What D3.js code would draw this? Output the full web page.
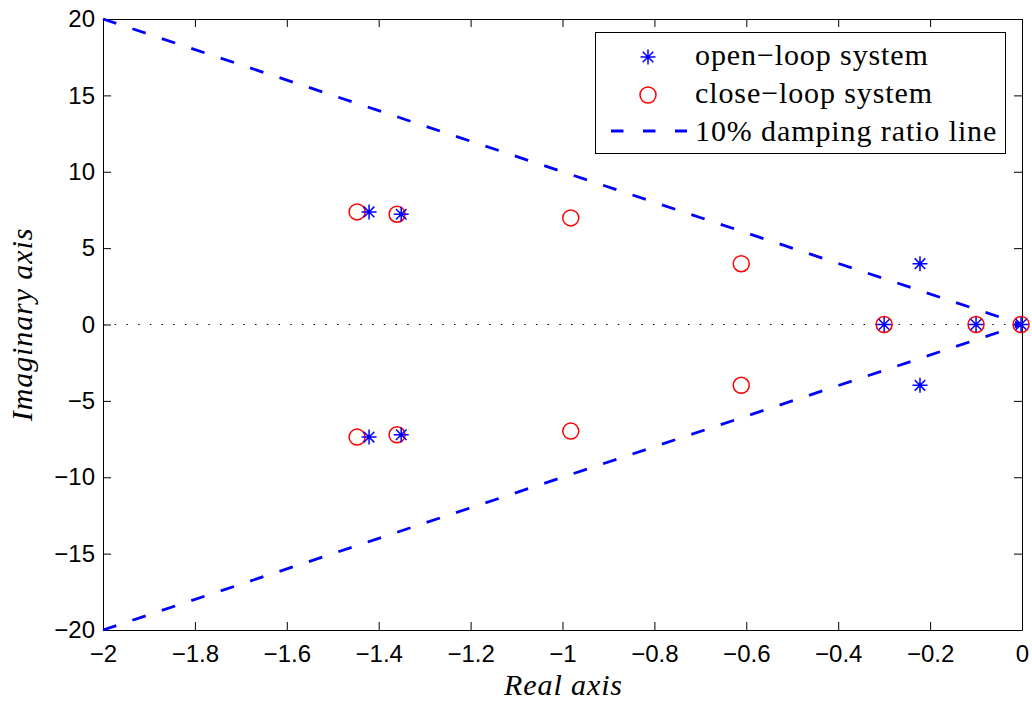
<!DOCTYPE html>
<html>
<head>
<meta charset="utf-8">
<script src="https://cdn.jsdelivr.net/npm/d3@7"></script>
<style>
  html, body { margin: 0; padding: 0; background: #fff; }
  svg { display: block; }
  .tick text { font-family: "Liberation Sans", Arial, Helvetica, sans-serif; font-size: 24px; fill: #000; }
  .serif { font-family: "Liberation Serif", "Times New Roman", Times, serif; fill: #000; letter-spacing: 0.9px; }
</style>
</head>
<body>
<svg id="chart" width="1032" height="702"></svg>
<script>
// Pole locations (real part, imaginary part)
const openRe  = [-1.421, -1.421, -1.351, -1.351, -0.222, -0.222, -0.3, -0.1, -0.002];
const openIm  = [ 7.37,  -7.37,   7.22,  -7.22,   3.98,  -3.98,   0,    0,    0];
const closeRe = [-1.447, -1.447, -1.36, -1.36, -0.982, -0.982, -0.611, -0.611, -0.3, -0.1, -0.002];
const closeIm = [ 7.37,  -7.37,   7.22, -7.22,  6.98,  -6.98,   3.98,  -3.98,   0,    0,    0];

// 10% damping ratio line endpoints (upper and lower branch)
const dampRe = [-2, 0];
const dampImUpper = [20, 0];
const dampImLower = [-20, 0];

const xTicks = [-2, -1.8, -1.6, -1.4, -1.2, -1, -0.8, -0.6, -0.4, -0.2, 0];
const yTicks = [-20, -15, -10, -5, 0, 5, 10, 15, 20];

const legendLabels = ["open\u2212loop system", "close\u2212loop system", "10% damping ratio line"];

const BLUE = "#0000ff", RED = "#ff0000";

const svg = d3.select("#chart");
const L = 103, R = 1022, T = 19, B = 630;
const x = d3.scaleLinear().domain([-2, 0]).range([L, R]);
const y = d3.scaleLinear().domain([-20, 20]).range([B, T]);
const fmt = d3.format("~g");
const TICK = 8;

// axes: ticks point inward on all four sides
const axB = svg.append("g").attr("transform", `translate(0,${B})`)
  .call(d3.axisBottom(x).tickValues(xTicks).tickFormat(fmt).tickSizeInner(-TICK).tickSizeOuter(0).tickPadding(15));
const axT = svg.append("g").attr("transform", `translate(0,${T})`)
  .call(d3.axisTop(x).tickValues(xTicks).tickFormat("").tickSizeInner(-TICK).tickSizeOuter(0));
const axL = svg.append("g").attr("transform", `translate(${L},0)`)
  .call(d3.axisLeft(y).tickValues(yTicks).tickFormat(fmt).tickSizeInner(-TICK).tickSizeOuter(0).tickPadding(8));
const axR = svg.append("g").attr("transform", `translate(${R},0)`)
  .call(d3.axisRight(y).tickValues(yTicks).tickFormat("").tickSizeInner(-TICK).tickSizeOuter(0));
[axB, axT, axL, axR].forEach(a => {
  a.selectAll(".domain").attr("stroke", "#000").attr("stroke-width", 1);
  a.selectAll(".tick line").attr("stroke", "#000").attr("stroke-width", 1);
});

// real axis (dotted)
svg.append("line")
  .attr("x1", x(-2)).attr("x2", x(0)).attr("y1", y(0)).attr("y2", y(0))
  .attr("stroke", "#000").attr("stroke-width", 1.2).attr("stroke-dasharray", "1.5,10.2");

// closed-loop poles
svg.append("g").selectAll("circle").data(d3.range(closeRe.length)).join("circle")
  .attr("cx", i => x(closeRe[i])).attr("cy", i => y(closeIm[i])).attr("r", 8)
  .attr("fill", "none").attr("stroke", RED).attr("stroke-width", 1.5);

// asterisk marker path
function starPath(cx, cy, s) {
  const d = s * Math.SQRT1_2;
  return `M${cx - s},${cy}L${cx + s},${cy}M${cx},${cy - s}L${cx},${cy + s}` +
         `M${cx - d},${cy - d}L${cx + d},${cy + d}M${cx - d},${cy + d}L${cx + d},${cy - d}`;
}

// open-loop poles
svg.append("g").selectAll("path").data(d3.range(openRe.length)).join("path")
  .attr("d", i => starPath(x(openRe[i]), y(openIm[i]), 7.5))
  .attr("fill", "none").attr("stroke", BLUE).attr("stroke-width", 1.5);

// damping ratio lines
const dampLine = d3.line().x(d => x(d[0])).y(d => y(d[1]));
[dampImUpper, dampImLower].forEach(im => {
  svg.append("path")
    .attr("d", dampLine(dampRe.map((r, i) => [r, im[i]])))
    .attr("fill", "none").attr("stroke", BLUE).attr("stroke-width", 2.8)
    .attr("stroke-dasharray", "14,17");
});

// axis titles
svg.append("text").attr("class", "serif")
  .attr("x", (L + R) / 2 + 1).attr("y", 695).attr("text-anchor", "middle")
  .attr("font-size", 30).attr("font-style", "italic").text("Real axis");
svg.append("text").attr("class", "serif")
  .attr("transform", `translate(32,${(T + B) / 2}) rotate(-90)`).attr("text-anchor", "middle")
  .attr("font-size", 30).attr("font-style", "italic").text("Imaginary axis");

// legend
const lg = svg.append("g");
lg.append("rect").attr("x", 595.5).attr("y", 32.5).attr("width", 410).attr("height", 121)
  .attr("fill", "#fff").attr("stroke", "#000").attr("stroke-width", 1);
const rowY = [57, 95, 133];
const mx = 648;
lg.append("path").attr("d", starPath(mx, rowY[0], 7.5))
  .attr("fill", "none").attr("stroke", BLUE).attr("stroke-width", 1.5);
lg.append("circle").attr("cx", mx).attr("cy", rowY[1]).attr("r", 8)
  .attr("fill", "none").attr("stroke", RED).attr("stroke-width", 1.5);
lg.append("line").attr("x1", 611).attr("x2", 687).attr("y1", rowY[2] - 2).attr("y2", rowY[2] - 2)
  .attr("stroke", BLUE).attr("stroke-width", 2.8).attr("stroke-dasharray", "12.5,19.5");
lg.selectAll("text.lab").data(legendLabels).join("text")
  .attr("class", "serif lab").attr("x", 695).attr("y", (d, i) => rowY[i] + 8)
  .attr("font-size", 30).text(d => d);
</script>
</body>
</html>
